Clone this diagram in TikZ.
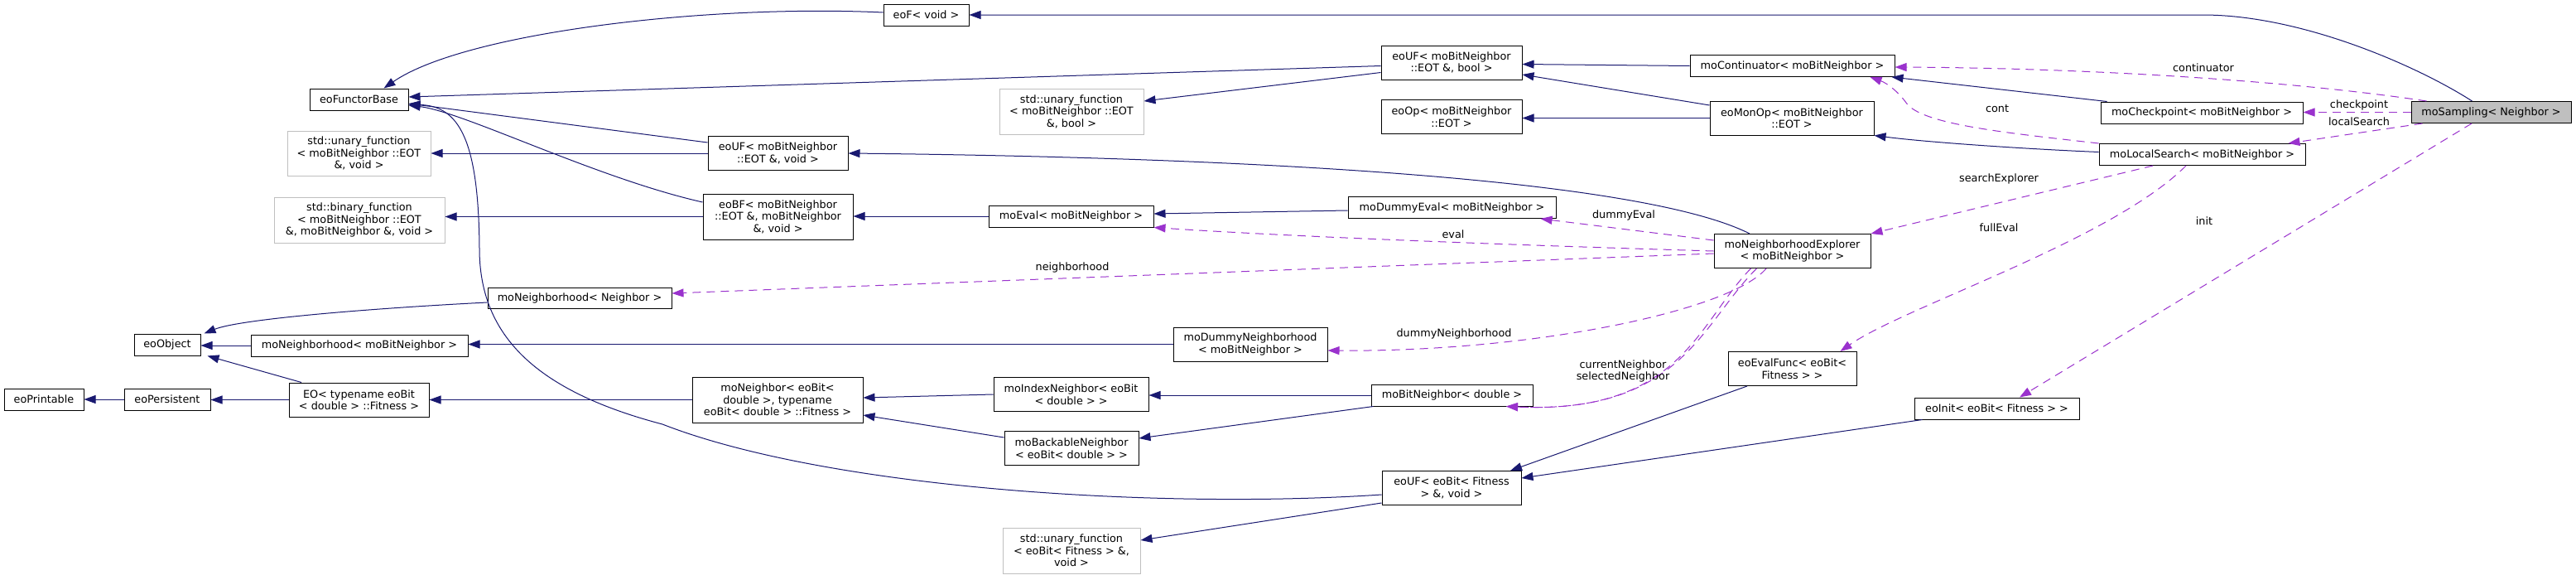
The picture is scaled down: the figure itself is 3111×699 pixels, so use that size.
\documentclass[tikz,border=0pt]{standalone}
\usepackage{fontspec}
\setmainfont{DejaVu Sans}
\usetikzlibrary{arrows.meta}
\definecolor{inhblue}{HTML}{191970}
\definecolor{usepurple}{HTML}{9A32CD}
\definecolor{lgray}{HTML}{BFBFBF}
\begin{document}
\begin{tikzpicture}[x=1pt,y=-1pt,
  box/.style={draw=black, line width=1pt, fill=white, inner sep=0pt, align=center, font=\fontsize{12.8}{14.5}\selectfont},
  graybox/.style={box, draw=lgray},
  inh/.style={draw=inhblue, line width=1pt, -{Triangle[length=14pt,width=10pt]}},
  usg/.style={draw=usepurple, line width=1pt, dash pattern=on 10pt off 7pt, -{Triangle[length=14pt,width=10pt]}},
  lab/.style={font=\fontsize{12.8}{14.5}\selectfont, inner sep=0pt, align=center}]
\fill[white] (0,0) rectangle (3111,699);
\useasboundingbox (0,0) rectangle (3111,699);
% nodes
\node[box,minimum width=103pt,minimum height=26pt] (eoF) at (1118.5,18) {eoF< void >};
\node[box,minimum width=119pt,minimum height=26pt] (eoFB) at (433.5,120) {eoFunctorBase};
\node[graybox,minimum width=173pt,minimum height=54pt] (stdUFvoid) at (433.5,185) {std::unary\_function\\< moBitNeighbor ::EOT\\\&, void >};
\node[graybox,minimum width=206pt,minimum height=55pt] (stdBF) at (434,265.5) {std::binary\_function\\< moBitNeighbor ::EOT\\\&, moBitNeighbor \&, void >};
\node[box,minimum width=222pt,minimum height=25pt] (moNbhdN) at (700,359.5) {moNeighborhood< Neighbor >};
\node[box,minimum width=80pt,minimum height=26pt] (eoObject) at (202,416) {eoObject};
\node[box,minimum width=262pt,minimum height=26pt] (moNbhdBit) at (434,417) {moNeighborhood< moBitNeighbor >};
\node[box,minimum width=96pt,minimum height=26pt] (eoPrintable) at (53,482) {eoPrintable};
\node[box,minimum width=104pt,minimum height=26pt] (eoPersistent) at (202,482) {eoPersistent};
\node[box,minimum width=169pt,minimum height=41pt] (EO) at (433.5,482.5) {EO< typename eoBit\\< double > ::Fitness >};
\node[box,minimum width=169pt,minimum height=41pt] (eoUFvoid) at (939.5,185) {eoUF< moBitNeighbor\\::EOT \&, void >};
\node[graybox,minimum width=174pt,minimum height=55pt] (stdUFbool) at (1294,134.5) {std::unary\_function\\< moBitNeighbor ::EOT\\\&, bool >};
\node[box,minimum width=181pt,minimum height=55pt] (eoBF) at (939.5,261.5) {eoBF< moBitNeighbor\\::EOT \&, moBitNeighbor\\\&, void >};
\node[box,minimum width=199pt,minimum height=26pt] (moEval) at (1293.5,261) {moEval< moBitNeighbor >};
\node[box,minimum width=186pt,minimum height=41pt] (moDummyNbhd) at (1510,415.5) {moDummyNeighborhood\\< moBitNeighbor >};
\node[box,minimum width=206pt,minimum height=55pt] (moNeighbor) at (939,482.5) {moNeighbor< eoBit<\\double >, typename\\eoBit< double > ::Fitness >};
\node[box,minimum width=187pt,minimum height=41pt] (moIndexNb) at (1293.5,476) {moIndexNeighbor< eoBit\\< double > >};
\node[box,minimum width=162pt,minimum height=41pt] (moBackNb) at (1294,541) {moBackableNeighbor\\< eoBit< double > >};
\node[graybox,minimum width=166pt,minimum height=55pt] (stdUFfit) at (1294,664.5) {std::unary\_function\\< eoBit< Fitness > \&,\\void >};
\node[box,minimum width=170pt,minimum height=41pt] (eoUFbool) at (1753,75.5) {eoUF< moBitNeighbor\\::EOT \&, bool >};
\node[box,minimum width=247pt,minimum height=26pt] (moCont) at (2164.5,79.5) {moContinuator< moBitNeighbor >};
\node[box,minimum width=170pt,minimum height=41pt] (eoOp) at (1753,141) {eoOp< moBitNeighbor\\::EOT >};
\node[box,minimum width=198pt,minimum height=41pt] (eoMonOp) at (2164,142.5) {eoMonOp< moBitNeighbor\\::EOT >};
\node[box,minimum width=251pt,minimum height=26pt] (moDummyEval) at (1753.5,250.5) {moDummyEval< moBitNeighbor >};
\node[box,minimum width=189pt,minimum height=41pt] (moNExp) at (2164.5,303) {moNeighborhoodExplorer\\< moBitNeighbor >};
\node[box,minimum width=195pt,minimum height=26pt] (moBitNb) at (1753.5,477) {moBitNeighbor< double >};
\node[box,minimum width=155pt,minimum height=41pt] (eoEvalFunc) at (2164.5,445) {eoEvalFunc< eoBit<\\Fitness > >};
\node[box,minimum width=199pt,minimum height=26pt] (eoInit) at (2411.5,493) {eoInit< eoBit< Fitness > >};
\node[box,minimum width=168pt,minimum height=41pt] (eoUFfit) at (1753,589) {eoUF< eoBit< Fitness\\> \&, void >};
\node[box,minimum width=244pt,minimum height=26pt] (moCheck) at (2659,136) {moCheckpoint< moBitNeighbor >};
\node[box,fill=lgray,minimum width=193pt,minimum height=26pt] (moSampling) at (3008.5,135.5) {moSampling< Neighbor >};
\node[box,minimum width=249pt,minimum height=26pt] (moLS) at (2659.5,186.5) {moLocalSearch< moBitNeighbor >};
% inheritance edges
\draw[inh] ([xshift=-23pt]moSampling.north) .. controls (2920,80) and (2780,18) .. (2660,18) -- (eoF.east);
\draw[inh] ([yshift=3pt]eoF.west) .. controls (850,5) and (560,40) .. ([xshift=30pt]eoFB.north);
\draw[inh] ([yshift=-4pt]eoUFbool.west) -- ([yshift=3pt]eoFB.east);
\draw[inh] ([yshift=-12pt]eoUFbool.west) -- ([yshift=12.5pt]stdUFbool.east);
\draw[inh] ([yshift=13pt]eoUFvoid.west) -- ([yshift=-5pt]eoFB.east);
\draw[inh] (eoUFvoid.west) -- (stdUFvoid.east);
\draw[inh] ([yshift=17.5pt]eoBF.west) .. controls (720,215) and (560,135) .. ([yshift=-7pt]eoFB.east);
\draw[inh] (eoBF.west) -- (stdBF.east |- eoBF.west);
\draw[inh] ([yshift=-8pt]eoUFfit.west) .. controls (1400,615) and (1000,590) .. (800,512) .. controls (640,470) and (579,400) .. (579,300) .. controls (578,170) and (555,128) .. ([yshift=-6pt]eoFB.east);
\draw[inh] ([yshift=-18pt]eoUFfit.west) -- ([yshift=12.5pt]stdUFfit.east);
\draw[inh] ([xshift=-54.5pt]eoEvalFunc.south) -- ([xshift=71pt]eoUFfit.north);
\draw[inh] ([xshift=10pt]eoInit.south west) -- ([yshift=12pt]eoUFfit.east);
\draw[inh] (moCont.west) -- ([yshift=-2pt]eoUFbool.east);
\draw[inh] ([yshift=15.5pt]eoMonOp.west) -- ([yshift=-14.5pt]eoUFbool.east);
\draw[inh] (eoMonOp.west) -- (eoOp.east |- eoMonOp.west);
\draw[inh] ([xshift=8pt]moCheck.north west) -- ([xshift=-4pt]moCont.south east);
\draw[inh] ([yshift=3pt]moLS.west) .. controls (2450,180) and (2330,172) .. (eoMonOp.south east);
\draw[inh] ([xshift=-51.5pt]moNExp.north) .. controls (1980,215) and (1500,190) .. (eoUFvoid.east);
\draw[inh] (moEval.west) -- (eoBF.east |- moEval.west);
\draw[inh] ([yshift=-3.5pt]moDummyEval.west) -- ([yshift=3pt]moEval.east);
\draw[inh] (moDummyNbhd.west) -- (moNbhdBit.east |- moDummyNbhd.west);
\draw[inh] ([yshift=-5.5pt]moNbhdN.west) .. controls (450,372) and (290,385) .. ([xshift=4pt]eoObject.north east);
\draw[inh] (moNbhdBit.west) -- (eoObject.east |- moNbhdBit.west);
\draw[inh] ([xshift=-69.5pt]EO.north) -- ([xshift=8pt]eoObject.south east);
\draw[inh] (EO.west) -- (eoPersistent.east |- EO.west);
\draw[inh] (eoPersistent.west) -- (eoPrintable.east);
\draw[inh] (moNeighbor.west) -- (EO.east);
\draw[inh] (moIndexNb.west) -- ([yshift=2.5pt]moNeighbor.east);
\draw[inh] ([yshift=13pt]moBackNb.west) -- ([yshift=-18.5pt]moNeighbor.east);
\draw[inh] (moBitNb.west) -- (moIndexNb.east |- moBitNb.west);
\draw[inh] ([xshift=3pt]moBitNb.south west) -- ([yshift=12pt]moBackNb.east);
% usage edges
\draw[usg] ([xshift=19pt]moSampling.north west) .. controls (2750,95) and (2500,82) .. ([yshift=-1.5pt]moCont.east);
\node[lab] (lcontinuator) at (2661,82) {continuator};
\draw[usg] (moSampling.west) -- (moCheck.east |- moSampling.west);
\node[lab] (lcheckpoint) at (2849,127) {checkpoint};
\draw[usg] ([xshift=14pt]moSampling.south west) -- ([xshift=-21pt]moLS.north east);
\node[lab] (llocal) at (2849,147) {localSearch};
\draw[usg] ([xshift=-23.5pt]moSampling.south) -- ([xshift=27.5pt]eoInit.north);
\node[lab] (linit) at (2662,267) {init};
\draw[usg] (moLS.north west) .. controls (2420,160) and (2320,150) .. (2302,124) .. controls (2292,110) and (2278,100) .. ([xshift=-30pt]moCont.south east);
\node[lab] (lcont) at (2412,131) {cont};
\draw[usg] ([xshift=-59.5pt]moLS.south) -- (moNExp.north east);
\node[lab] (lsearch) at (2414,216) {searchExplorer};
\draw[usg] ([xshift=-19.5pt]moLS.south) .. controls (2550,290) and (2300,370) .. ([xshift=-20pt]eoEvalFunc.north east);
\node[lab] (lfull) at (2414,275) {fullEval};
\draw[usg] (moNExp.west) .. controls (1800,295) and (1550,285) .. (moEval.south east);
\node[lab] (leval) at (1755,283) {eval};
\draw[usg] ([yshift=13pt]moNExp.west) -- ([xshift=-19pt]moDummyEval.south east);
\node[lab] (ldummyeval) at (1961,260) {dummyEval};
\draw[usg] ([yshift=-3pt]moNExp.west) -- ([yshift=5.5pt]moNbhdN.east);
\node[lab] (lnbhd) at (1295,323) {neighborhood};
\draw[usg] ([xshift=-31.5pt]moNExp.south) .. controls (2090,375) and (1850,425) .. ([yshift=-7.5pt]moDummyNbhd.east);
\node[lab] (ldummynbhd) at (1756,403) {dummyNeighborhood};
\draw[usg] ([xshift=-50pt]moNExp.south) .. controls (2050,390) and (2030,500) .. ([xshift=65.5pt]moBitNb.south);
\draw[usg] ([xshift=-43pt]moNExp.south) .. controls (2055,390) and (2030,500) .. ([xshift=65.5pt]moBitNb.south);
\node[lab] (lcur) at (1960,448) {currentNeighbor\\selectedNeighbor};
\end{tikzpicture}
\end{document}
